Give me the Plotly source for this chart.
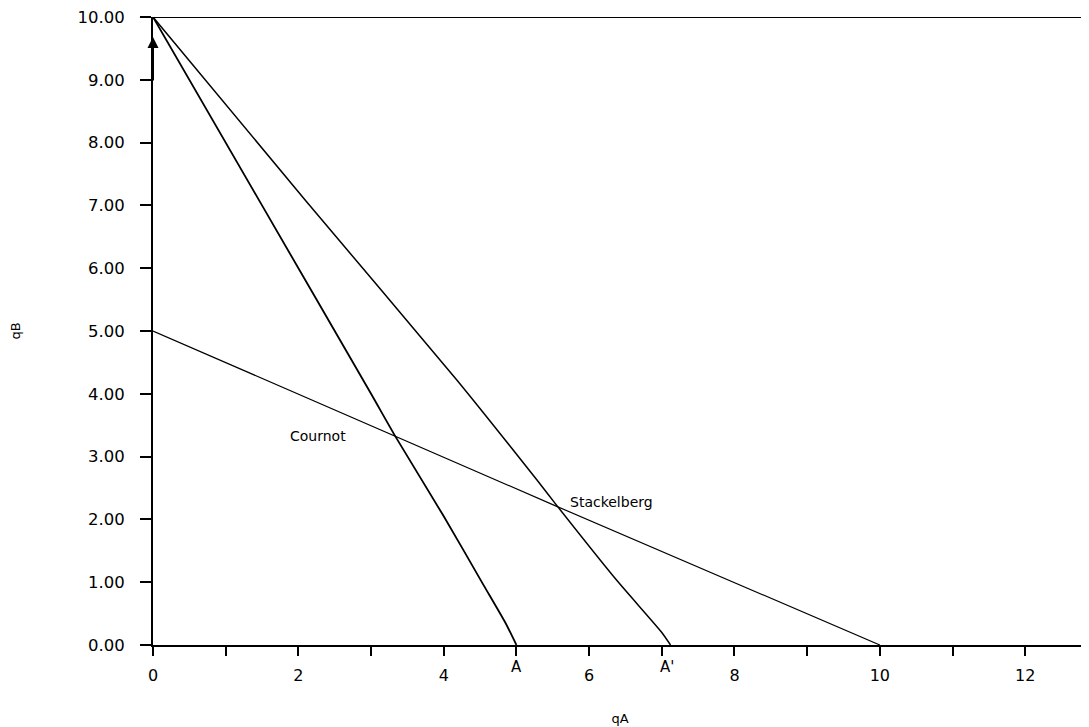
import plotly.graph_objects as go

# Data
a_x = [0, 1.5, 3.0, 3.33, 4.0, 4.55, 4.85, 5.0]
a_y = [10, 7.0, 4.0, 3.33, 2.05, 0.95, 0.35, 0]
ap_x = [0, 2.09, 4.18, 5.28, 5.57, 6.38, 7.0, 7.12]
ap_y = [10, 7.09, 4.22, 2.63, 2.2, 1.03, 0.2, 0]
b_x = [0, 3.33, 5.57, 10]
b_y = [5, 3.33, 2.2, 0]

x_tickvals = list(range(0, 13))
x_ticktext = [str(v) if v % 2 == 0 else "" for v in x_tickvals]
y_tickvals = list(range(0, 11))

points = [("Cournot", 3.33, 3.33), ("Stackelberg", 5.57, 2.2)]
axis_marks = [("A", 5.0), ("A'", 7.07)]

FONT = "DejaVu Sans"

fig = go.Figure()
fig.add_trace(go.Scatter(x=b_x, y=b_y, mode="lines", line=dict(color="black", width=1.2),
                         showlegend=False))
fig.add_trace(go.Scatter(x=a_x, y=a_y, mode="lines",
                         line=dict(color="black", width=1.8, shape="spline", smoothing=0.6),
                         showlegend=False))
fig.add_trace(go.Scatter(x=ap_x, y=ap_y, mode="lines",
                         line=dict(color="black", width=1.5, shape="spline", smoothing=0.6),
                         showlegend=False))

fig.update_layout(
    width=1081, height=719,
    margin=dict(l=145, r=2, t=9, b=82),
    plot_bgcolor="white", paper_bgcolor="white",
    font=dict(family=FONT, color="black", size=16),
    xaxis=dict(range=[0, 12.85], tickvals=x_tickvals, ticktext=x_ticktext,
               ticks="outside", ticklen=9, tickwidth=2, tickcolor="black",
               ticklabelstandoff=6, tickfont=dict(size=16), ticklabeloverflow="allow",
               showgrid=False, zeroline=False, showline=True, linewidth=2, linecolor="black",
               automargin=False,
               title=dict(text="qA", font=dict(size=13), standoff=30)),
    yaxis=dict(range=[0, 10], tickvals=y_tickvals, tickformat=".2f",
               ticks="outside", ticklen=11, tickwidth=2, tickcolor="black",
               ticklabelstandoff=12, tickfont=dict(size=16.5), ticklabeloverflow="allow",
               showgrid=False, zeroline=False, showline=True, linewidth=2, linecolor="black",
               automargin=False,
               title=dict(text="qB", font=dict(size=13), standoff=68)),
)

# top horizontal line at qB = 10
fig.add_shape(type="line", xref="paper", yref="y", x0=-0.014, x1=1.0, y0=10, y1=10,
              line=dict(color="black", width=2))

# arrow on the y axis
fig.add_annotation(x=0, y=9.68, ax=0, ay=45, xref="x", yref="y", showarrow=True,
                   arrowhead=2, arrowsize=1.1, arrowwidth=2, arrowcolor="black", text="")

for name, px_, py_ in points:
    if name == "Cournot":
        fig.add_annotation(x=px_, y=py_, text=name, showarrow=False, xanchor="right",
                           xshift=-47, yshift=0, font=dict(size=14))
    else:
        fig.add_annotation(x=px_, y=py_, text=name, showarrow=False, xanchor="left",
                           xshift=10, yshift=5, font=dict(size=14))

for name, xv in axis_marks:
    fig.add_annotation(x=xv, y=0, text=name, showarrow=False, yanchor="top",
                       yshift=-11, font=dict(size=15))

fig.write_html("out.html")
